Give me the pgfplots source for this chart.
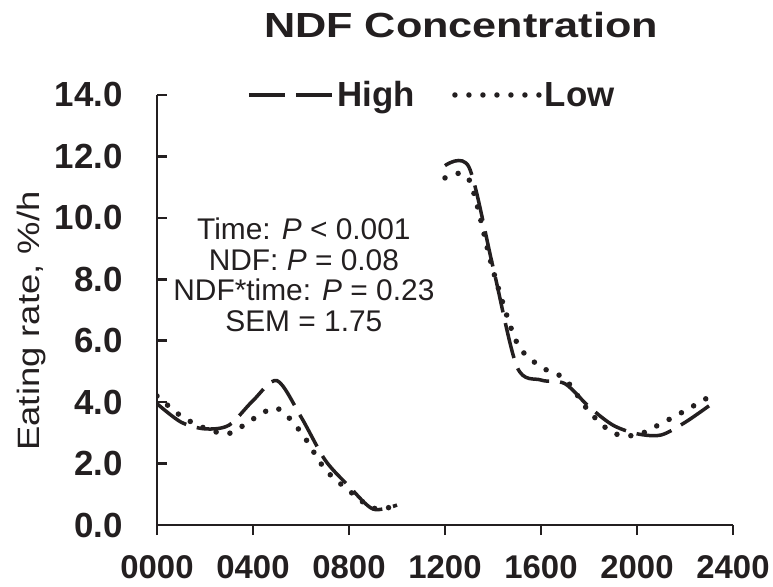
\documentclass[border=0pt]{standalone}
\usepackage{fontspec}
\setmainfont{Liberation Sans}
\usepackage{pgfplots}
\pgfplotsset{compat=1.18}
\definecolor{ink}{RGB}{35,31,32}
\begin{document}
\begin{tikzpicture}[x=1bp,y=1bp]
\begin{axis}[
  name=ax, at={(0,0)}, anchor=south west,
  scale only axis, width=576bp, height=430bp,
  xmin=0, xmax=2400, ymin=0, ymax=14,
  axis x line=bottom, axis y line=left,
  axis line style={ink, line width=2.5bp, -},
  xtick={0,400,800,1200,1600,2000,2400},
  xticklabels={0000,0400,0800,1200,1600,2000,2400},
  ytick={0,2,4,6,8,10,12,14},
  /pgf/number format/assume math mode=true,
  yticklabel={\pgfmathprintnumber[fixed,fixed zerofill,precision=1]{\tick}},
  tick align=outside, major tick length=10bp,
  xtick style={ink, line width=2.5bp},
  ytick style={ink, line width=2.5bp, xshift=10bp},
  yticklabel style={font=\fontsize{35}{35}\selectfont\bfseries, inner sep=0pt, anchor=east, text=ink},
  xticklabel style={font=\fontsize{33}{33}\selectfont\bfseries, inner sep=0pt, anchor=north, text=ink},
  xticklabel shift=20bp, yticklabel shift=24bp,
  legend style={at={(axis description cs:0.478,1.0)}, anchor=center, draw=none, fill=none,
    font=\fontsize{35}{35}\selectfont\bfseries, text=ink, inner sep=0pt,
    nodes={inner sep=3bp},
    /tikz/every even column/.append style={column sep=34bp}},
  legend columns=2,
  legend image code/.code={\draw[#1] (0bp,0bp) -- (84bp,0bp);},
]
\addplot[ink, line width=3.5bp, dash pattern=on 36bp off 11bp, smooth] coordinates {
(0,3.95) (100,3.35) (200,3.13) (300,3.25) (400,4.05) (500,4.70) (600,3.52)
(700,2.12) (800,1.26) (900,0.52) (1000,0.65)};
\addlegendentry{High}
\addplot[ink, line width=5.5bp, line cap=round, dash pattern=on 0bp off 14bp, smooth] coordinates {
(0,4.20) (100,3.55) (200,3.15) (300,2.98) (400,3.45) (500,3.80) (600,3.02)
(700,1.82) (800,1.12) (900,0.55) (1000,0.62)};
\addlegendentry{Low}
\addplot[ink, line width=3.5bp, dash pattern=on 36bp off 11bp, smooth, forget plot] coordinates {
(1200,11.70) (1300,11.65) (1400,8.40) (1500,5.15) (1600,4.72) (1700,4.60)
(1800,3.85) (1900,3.25) (2000,2.97) (2100,2.93) (2200,3.34) (2300,3.88)};
\addplot[ink, line width=5.5bp, line cap=round, dash pattern=on 0bp off 14bp, smooth, forget plot] coordinates {
(1200,11.30) (1300,11.25) (1400,8.30) (1500,5.93) (1600,5.15) (1700,4.75)
(1800,3.70) (1900,3.00) (2000,2.93) (2100,3.30) (2200,3.72) (2300,4.17)};
\node[align=center, font=\fontsize{30}{30.7}\selectfont, text=ink] at (axis cs:612,8.14)
  {Time: \textit{P} < 0.001\\NDF: \textit{P} = 0.08\\NDF*time: \textit{P} = 0.23\\SEM = 1.75};
\end{axis}
\node[anchor=base, font=\fontsize{35}{35}\selectfont\bfseries, text=ink] at (304bp,487bp)
  {\scalebox{1.24}[1]{NDF Concentration}};
\node[rotate=90, font=\fontsize{31}{31}\selectfont, text=ink] at (-125bp,204bp)
  {\scalebox{1.18}[1]{Eating rate, \%/h}};
\pgfresetboundingbox
\path[use as bounding box] (-157bp,-62bp) rectangle (616bp,525bp);
\end{tikzpicture}
\end{document}
